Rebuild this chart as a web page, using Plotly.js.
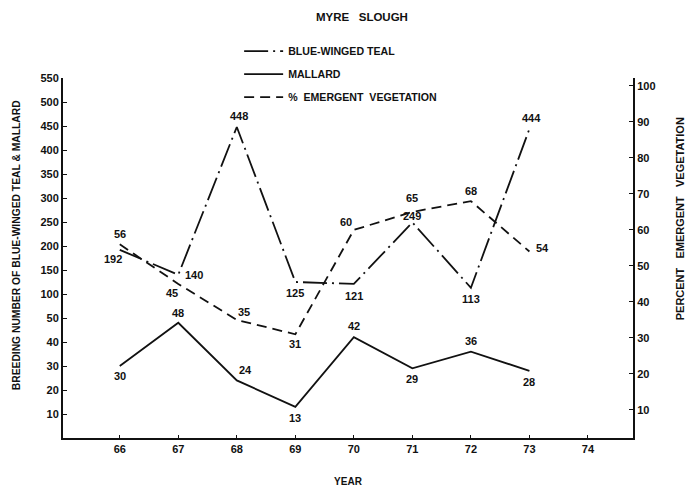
<!DOCTYPE html>
<html>
<head>
<meta charset="utf-8">
<script src="https://cdn.plot.ly/plotly-3.0.1.min.js"></script>
<style>html,body{margin:0;padding:0;background:#fff;}#chart{width:696px;height:490px;}</style>
</head>
<body>
<div id="chart"></div>
<script>
// ---- data ----
const years = [66, 67, 68, 69, 70, 71, 72, 73];
const teal = [192, 140, 448, 125, 121, 249, 113, 444];
const mallard = [30, 48, 24, 13, 42, 29, 36, 28];
const vegetation = [56, 45, 35, 31, 60, 65, 68, 54];
const yearTicks = [66, 67, 68, 69, 70, 71, 72, 73, 74];
const countTickValues = [10, 20, 30, 40, 50, 100, 150, 200, 250, 300, 350, 400, 450, 500, 550];
const countTickLabels = ['10', '20', '30', '40', '50', '100', '150', '200', '250', '300', '350', '400', '450', '500', '550'];
const percentTicks = [10, 20, 30, 40, 50, 60, 70, 80, 90, 100];

// label offsets (px) [dx, dy] — dy positive = downwards
const tealOff = [[-7, 9], [16, 0], [2, -11], [0, 11], [0, 12], [0, -6], [0, 11], [2, -11]];
const vegOff = [[0, -10], [-6, 9], [7, -8], [0, 10], [-8, -8], [0, -14], [0, -10], [13, -4]];
const mallOff = [[0, 10], [0, -10], [9, -10], [0, 11], [0, -11], [0, 11], [0, -11], [0, 11]];

// broken count scale: 0-50 in steps of 10, then 50-550 in steps of 50, equal spacing
function brk(v) { return v <= 50 ? v / 10 : 5 + (v - 50) / 50; }

const ink = '#111';
const FF = '"Liberation Sans", Arial, sans-serif';
const fnt = (s) => ({family: FF, size: s, color: ink, weight: 'bold'});
const NB = '\u00a0';

const traces = [
  {x: years, y: teal.map(brk), mode: 'lines', name: 'BLUE-WINGED TEAL', legendgroup: 'a',
   line: {color: ink, width: 1.8, dash: '24px,5px,2px,5px'}, hoverinfo: 'skip'},
  {x: years, y: mallard.map(brk), mode: 'lines', name: 'MALLARD', legendgroup: 'b',
   line: {color: ink, width: 1.8}, hoverinfo: 'skip'},
  {x: years, y: vegetation, yaxis: 'y2', mode: 'lines', name: '%' + NB + ' EMERGENT' + NB + ' VEGETATION', legendgroup: 'c',
   line: {color: ink, width: 1.8, dash: '10px,6px'}, hoverinfo: 'skip'}
];

const ann = [];
function addLabels(vals, off, yref, tf) {
  vals.forEach((v, i) => {
    ann.push({x: years[i], y: tf(v), xref: 'x', yref: yref, text: String(v), showarrow: false,
      xshift: off[i][0], yshift: -off[i][1], font: fnt(11)});
  });
}
addLabels(teal, tealOff, 'y', brk);
addLabels(vegetation, vegOff, 'y2', v => v);
addLabels(mallard, mallOff, 'y', brk);

ann.push({text: 'BREEDING NUMBER OF BLUE-WINGED TEAL & MALLARD', textangle: -90, showarrow: false,
  xref: 'paper', yref: 'paper', x: -0.081, y: 0.535, xanchor: 'center', yanchor: 'middle', font: fnt(10.3)});
ann.push({text: 'PERCENT' + NB + NB + ' EMERGENT' + NB + NB + ' VEGETATION', textangle: -90, showarrow: false,
  xref: 'paper', yref: 'paper', x: 1.084, y: 0.61, xanchor: 'center', yanchor: 'middle', font: fnt(11)});

const layout = {
  width: 696, height: 490,
  margin: {l: 63, r: 63, t: 78, b: 52},
  paper_bgcolor: '#fff', plot_bgcolor: '#fff',
  title: {text: 'MYRE' + NB + NB + ' SLOUGH', x: 0.52, xanchor: 'center', y: 0.965, yref: 'container', yanchor: 'middle', font: fnt(11.5)},
  showlegend: true,
  legend: {x: 0.309, y: 1.115, xanchor: 'left', yanchor: 'top', bgcolor: 'rgba(0,0,0,0)',
    font: fnt(10.6), tracegroupgap: 4, traceorder: 'grouped', itemwidth: 39},
  xaxis: {range: [65.03, 74.77], tickvals: yearTicks, showline: true, linecolor: ink, linewidth: 2,
    ticks: 'inside', ticklen: 3, tickcolor: ink, showgrid: false, zeroline: false,
    tickfont: fnt(11), title: {text: 'YEAR', font: fnt(10), standoff: 24}},
  yaxis: {range: [0, 15], tickvals: countTickValues.map(brk), ticktext: countTickLabels,
    showline: true, linecolor: ink, linewidth: 2, ticks: 'inside', ticklen: 4, tickcolor: ink,
    showgrid: false, zeroline: false, tickfont: fnt(11)},
  yaxis2: {range: [2.2, 102.2], overlaying: 'y', side: 'right', tickvals: percentTicks,
    showline: true, linecolor: ink, linewidth: 2, ticks: 'inside', ticklen: 4, tickcolor: ink,
    showgrid: false, zeroline: false, tickfont: fnt(11)},
  annotations: ann
};

Plotly.newPlot('chart', traces, layout, {displayModeBar: false, staticPlot: true});
</script>
</body>
</html>
